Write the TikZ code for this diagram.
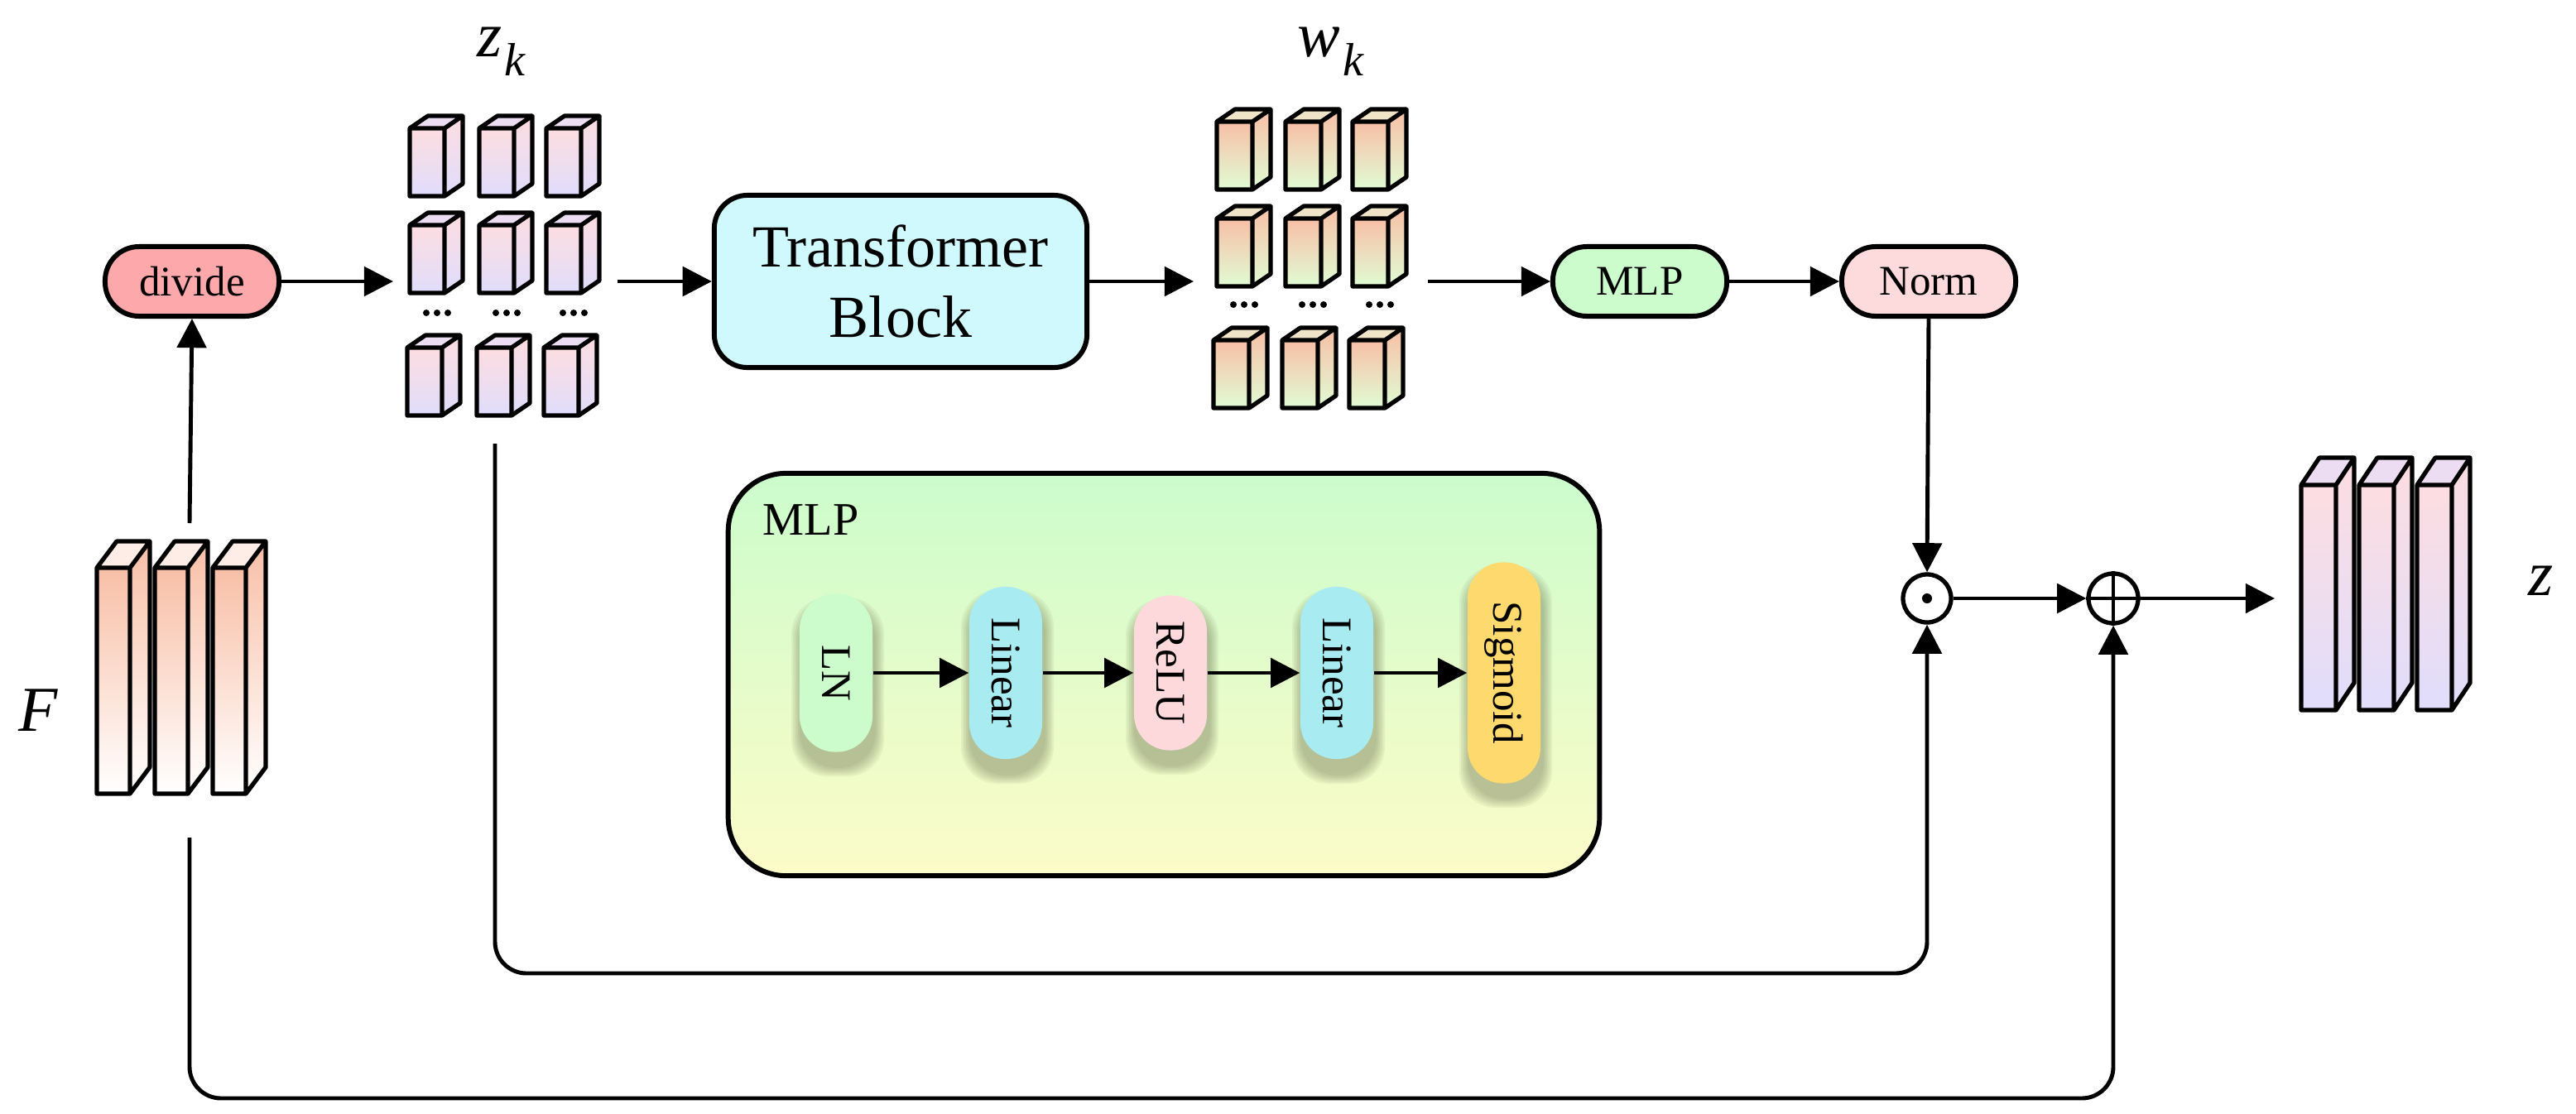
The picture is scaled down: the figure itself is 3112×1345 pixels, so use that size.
\documentclass[tikz,border=0pt]{standalone}
\usepackage{fontspec}
\setmainfont{Liberation Serif}
\usetikzlibrary{arrows.meta,calc}
\definecolor{divc}{HTML}{FDA8AA}
\definecolor{trc}{HTML}{D0F9FD}
\definecolor{mlpc}{HTML}{CCFCCC}
\definecolor{normc}{HTML}{FDDADC}
\definecolor{boxtop}{HTML}{CCFCCC}
\definecolor{boxbot}{HTML}{FCFCC8}
\definecolor{lnc}{HTML}{CCFCCC}
\definecolor{linc}{HTML}{A8ECF2}
\definecolor{reluc}{HTML}{FDD9DC}
\definecolor{sigc}{HTML}{FED96E}
\definecolor{shadowc}{HTML}{5A5A3C}
\definecolor{pinkc}{HTML}{FDDDE1}
\definecolor{lavc}{HTML}{E0DDFC}
\definecolor{salc}{HTML}{F8BFA6}
\definecolor{grnc}{HTML}{E0FCD4}
\definecolor{ftopc}{HTML}{FDEDE6}
\definecolor{ztopc}{HTML}{ECDDF2}
\definecolor{wtopc}{HTML}{F0E4C8}
% #1 x, #2 y (front top-left), #3 w, #4 h, #5 dx, #6 dy, #7 top colour, #8 bottom colour, #9 top-face colour
\newcommand{\mycube}[9]{%
  \shade[top color=#7, bottom color=#8] (#1,#2) rectangle ++(#3,#4);
  \shade[top color=#7, bottom color=#8] (#1+#3,#2) -- ++(#5,-#6) -- ++(0,#4) -- ++(-#5,#6) -- cycle;
  \fill[#9] (#1,#2) -- ++(#5,-#6) -- ++(#3,0) -- ++(-#5,#6) -- cycle;
  \draw[line width=1.5pt, line join=round] (#1,#2) rectangle ++(#3,#4)
    (#1,#2) -- ++(#5,-#6) -- ++(#3,0) -- ++(-#5,#6)
    (#1+#3+#5,#2-#6) -- ++(0,#4) -- ++(-#5,#6);
}
\newcommand{\mydots}[2]{%
  \fill (#1-13,#2) circle (0.04cm) (#1,#2) circle (0.04cm) (#1+13,#2) circle (0.04cm);
}
% soft shadow: #1 x, #2 y, #3 half height
\newcommand{\pillshadow}[3]{%
  \foreach \i in {0,...,5}{
    \fill[shadowc, opacity=0.07, rounded corners=0.44cm]
      ({#1-44-2*\i},{#2-#3+14-2*\i}) rectangle ({#1+48+2*\i},{#2+#3+20+2*\i});
  }%
}
\begin{document}
\begin{tikzpicture}[x=0.01cm,y=-0.01cm,
  conn/.style={line width=1.4pt, -{Triangle[length=10pt,width=10pt]}},
  pill/.style={draw, line width=1.7pt, rounded corners=0.41cm, minimum width=2.1cm,
    minimum height=0.84cm, inner sep=0pt, font=\fontsize{14.5}{16}\selectfont},
  vpill/.style={rounded corners=0.43cm, minimum width=0.88cm, inner sep=0pt,
    font=\fontsize{14.5}{16}\selectfont},
  mathlab/.style={inner sep=0pt, font=\fontsize{22}{24}\selectfont},
]
\useasboundingbox (0,0) rectangle (3112,1345);

% ---------- F blocks ----------
\mycube{117}{686}{40}{273}{24}{32}{salc}{white}{ftopc}
\mycube{187}{686}{40}{273}{24}{32}{salc}{white}{ftopc}
\mycube{257}{686}{40}{273}{24}{32}{salc}{white}{ftopc}
\node[mathlab] (Flab) at (46,858) {\textit{F}};
\coordinate (Ftop) at (229,632);
\coordinate (Fbot) at (229,1012);

% ---------- divide ----------
\node[pill, fill=divc] (divide) at (232,340) {divide};

% ---------- z_k grid ----------
\foreach \xx in {495,579,660}{
  \mycube{\xx}{155}{42}{82}{22}{15}{pinkc}{lavc}{ztopc}
  \mycube{\xx}{272}{42}{82}{22}{15}{pinkc}{lavc}{ztopc}
  \mycube{\xx-3}{420}{42}{82}{22}{15}{pinkc}{lavc}{ztopc}
  \mydots{\xx+33}{378}
}
\node[mathlab] (zklab) at (606,62) {\textit{z}\kern1pt\raisebox{-0.3em}{\fontsize{16}{16}\selectfont\textit{k}}};
\coordinate (zin) at (475,340);
\coordinate (zout) at (746,340);
\coordinate (zdown) at (598,536);

% ---------- Transformer ----------
\node[draw, line width=1.7pt, rounded corners=0.4cm, fill=trc, minimum width=4.5cm,
  minimum height=2.08cm, align=center, inner sep=0pt,
  font=\fontsize{20.5}{24.2}\selectfont] (trans) at (1088,340) {Transformer\\Block};

% ---------- w_k grid ----------
\foreach \xx in {1470,1553,1634}{
  \mycube{\xx}{147}{43}{82}{22}{15}{salc}{grnc}{wtopc}
  \mycube{\xx}{264}{43}{82}{22}{15}{salc}{grnc}{wtopc}
  \mycube{\xx-4}{411}{43}{82}{22}{15}{salc}{grnc}{wtopc}
  \mydots{\xx+33}{368}
}
\node[mathlab] (wklab) at (1608,62) {\textit{w}\kern1pt\raisebox{-0.3em}{\fontsize{16}{16}\selectfont\textit{k}}};
\coordinate (win) at (1442,340);
\coordinate (wout) at (1725,340);

% ---------- MLP / Norm ----------
\node[pill, fill=mlpc] (mlp) at (1981,340) {MLP};
\node[pill, fill=normc] (norm) at (2330,340) {Norm};

% ---------- operators ----------
\node[circle, draw, line width=1.5pt, minimum size=0.58cm, inner sep=0pt] (odot) at (2328,723) {};
\fill (odot.center) circle (0.06cm);
\node[circle, draw, line width=1.5pt, minimum size=0.6cm, inner sep=0pt] (oplus) at (2553,723) {};
\draw[line width=0.9pt] (oplus.north) -- (oplus.south) (oplus.west) -- (oplus.east);

% ---------- output blocks ----------
\mycube{2780}{586}{42}{272}{22}{33}{pinkc}{lavc}{ztopc}
\mycube{2850}{586}{42}{272}{22}{33}{pinkc}{lavc}{ztopc}
\mycube{2920}{586}{42}{272}{22}{33}{pinkc}{lavc}{ztopc}
\coordinate (outin) at (2748,723);
\node[mathlab] (zlab) at (3070,702) {\textit{z}};

% ---------- MLP inset ----------
\node[draw, line width=1.7pt, rounded corners=0.7cm, top color=boxtop, bottom color=boxbot,
  minimum width=10.52cm, minimum height=4.86cm] (mlpbox) at (1406,815) {};
\node[anchor=west, inner sep=0pt, font=\fontsize{16}{18}\selectfont] (mlplab) at (921,628) {MLP};

\pillshadow{1010}{813}{95}
\pillshadow{1215}{813}{104}
\pillshadow{1414}{813}{93}
\pillshadow{1615}{813}{104}
\pillshadow{1817}{813}{133}
\node[vpill, fill=lnc, minimum height=1.91cm] (ln) at (1010,813) {\rotatebox{-90}{LN}};
\node[vpill, fill=linc, minimum height=2.08cm] (lin1) at (1215,813) {\rotatebox{-90}{Linear}};
\node[vpill, fill=reluc, minimum height=1.87cm] (relu) at (1414,813) {\rotatebox{-90}{ReLU}};
\node[vpill, fill=linc, minimum height=2.08cm] (lin2) at (1615,813) {\rotatebox{-90}{Linear}};
\node[vpill, fill=sigc, minimum height=2.67cm] (sig) at (1817,813) {\rotatebox{-90}{Sigmoid}};
\draw[conn] (ln.east) -- (lin1.west);
\draw[conn] (lin1.east) -- (relu.west);
\draw[conn] (relu.east) -- (lin2.west);
\draw[conn] (lin2.east) -- (sig.west);

% ---------- connectors ----------
\draw[conn] (Ftop) -- (divide.south);
\draw[conn] (divide.east) -- (zin);
\draw[conn] (zout) -- (trans.west);
\draw[conn] (trans.east) -- (win);
\draw[conn] (wout) -- (mlp.west);
\draw[conn] (mlp.east) -- (norm.west);
\draw[conn] (norm.south) -- (odot.north);
\draw[conn] (odot.east) -- (oplus.west);
\draw[conn] (oplus.east) -- (outin);
\coordinate (bend1) at (1400,1176);
\coordinate (bend2) at (1400,1327);
\draw[conn, rounded corners=0.38cm] (zdown) |- (bend1) -| (odot.south);
\draw[conn, rounded corners=0.38cm] (Fbot) |- (bend2) -| (oplus.south);
\end{tikzpicture}
\end{document}
